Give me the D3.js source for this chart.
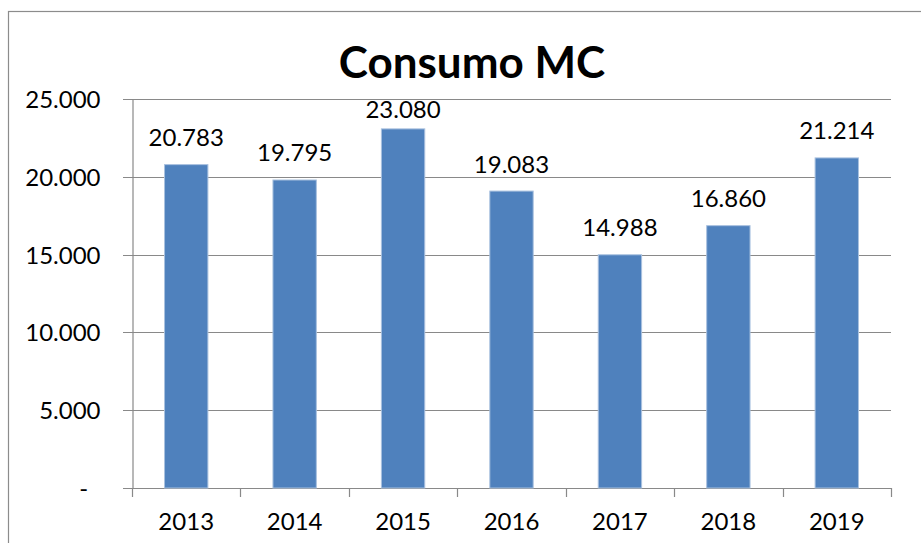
<!DOCTYPE html>
<html>
<head>
<meta charset="utf-8">
<script src="https://cdn.jsdelivr.net/npm/d3@7"></script>
<style>
  html, body { margin: 0; padding: 0; background: #fff; }
  svg { display: block; font-family: Lato, "Open Sans", sans-serif; }
</style>
</head>
<body>
<div id="chart"></div>
<script>
// dados do gráfico
const anos = ['2013', '2014', '2015', '2016', '2017', '2018', '2019'];
const consumo = [20783, 19795, 23080, 19083, 14988, 16860, 21214];
const yTicks = [0, 5000, 10000, 15000, 20000, 25000];
const titulo = 'Consumo MC';

const W = 921, H = 543;
const margin = { top: 99, right: 30, bottom: 55, left: 132 };
const width = W - margin.left - margin.right;
const height = H - margin.top - margin.bottom;

const svg = d3.select('#chart').append('svg')
  .attr('width', W)
  .attr('height', H);

// moldura do gráfico (cortada à direita e em baixo)
svg.append('rect')
  .attr('x', 8.5).attr('y', 11.5)
  .attr('width', 940).attr('height', 560)
  .attr('fill', 'none')
  .attr('stroke', '#8c8c8c')
  .attr('stroke-width', 1.2);

svg.append('text')
  .attr('x', 472).attr('y', 78)
  .attr('text-anchor', 'middle')
  .attr('font-weight', 'bold')
  .attr('font-size', 44)
  .attr('fill', '#000')
  .text(titulo);

const g = svg.append('g').attr('transform', `translate(${margin.left},${margin.top})`);

const x = d3.scaleBand().domain(anos).range([0, width]).paddingInner(0.6).paddingOuter(0.3);
const y = d3.scaleLinear().domain([0, 25000]).range([height, 0]);

const fmt = v => v === 0 ? '-  ' : d3.format(',')(v).replace(/,/g, '.');

// linhas de grade
g.append('g')
  .selectAll('line')
  .data(yTicks)
  .join('line')
  .attr('x1', -9).attr('x2', width)
  .attr('y1', d => Math.round(y(d)) + 0.5)
  .attr('y2', d => Math.round(y(d)) + 0.5)
  .attr('stroke', '#898989')
  .attr('stroke-width', 1.2);

// eixo Y
const yAxis = g.append('g')
  .attr('transform', 'translate(0.5,0)')
  .call(d3.axisLeft(y).tickValues(yTicks).tickFormat(fmt).tickSize(0).tickPadding(32));
yAxis.select('.domain').attr('stroke', '#898989').attr('stroke-width', 1.2);
yAxis.selectAll('text')
  .attr('font-size', 24)
  .attr('font-family', 'Lato, sans-serif')
  .attr('fill', '#000')
  .attr('dy', '0.35em')
  .style('white-space', 'pre');

// barras
g.append('g')
  .selectAll('rect')
  .data(consumo)
  .join('rect')
  .attr('x', (d, i) => x(anos[i]))
  .attr('y', d => y(d))
  .attr('width', x.bandwidth())
  .attr('height', d => height - y(d))
  .attr('fill', '#4f81bd')
  .attr('stroke', '#a9c1df')
  .attr('stroke-width', 1);

// rótulos de dados
g.append('g')
  .selectAll('text')
  .data(consumo)
  .join('text')
  .attr('x', (d, i) => x(anos[i]) + x.bandwidth() / 2)
  .attr('y', d => Math.max(y(d) - 18.5, 19))
  .attr('text-anchor', 'middle')
  .attr('font-size', 24)
  .attr('fill', '#000')
  .text(fmt);

// eixo X
const xAxis = g.append('g')
  .attr('transform', `translate(0,${height})`)
  .call(d3.axisBottom(x).tickSize(0).tickPadding(25));
xAxis.select('.domain').remove();
xAxis.selectAll('text')
  .attr('font-size', 24)
  .attr('font-family', 'Lato, sans-serif')
  .attr('fill', '#000');

// marcas nos limites das categorias
const limites = d3.range(anos.length + 1).map(i => i * x.step());
g.append('g')
  .selectAll('line')
  .data(limites)
  .join('line')
  .attr('x1', d => Math.round(d) + 0.5).attr('x2', d => Math.round(d) + 0.5)
  .attr('y1', height).attr('y2', height + 9)
  .attr('stroke', '#898989')
  .attr('stroke-width', 1.2);
</script>
</body>
</html>
